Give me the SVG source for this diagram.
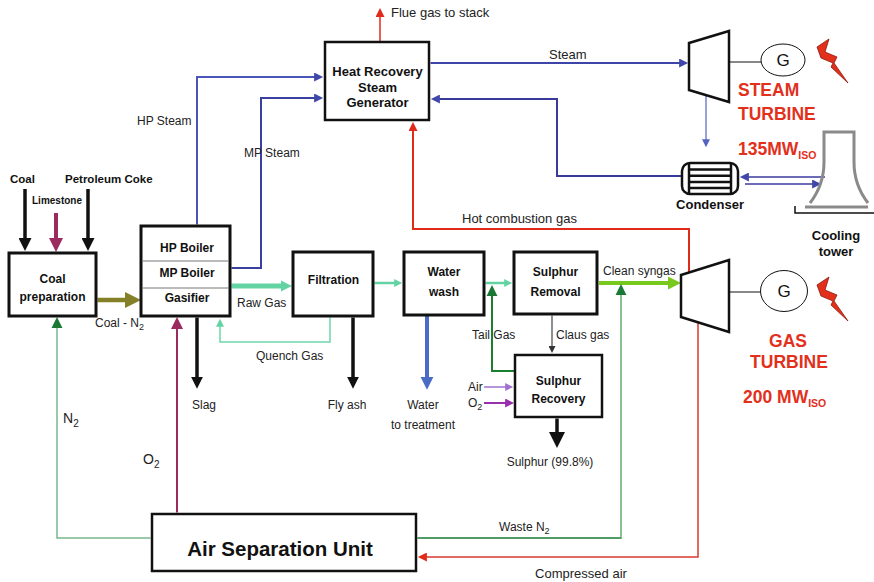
<svg xmlns="http://www.w3.org/2000/svg" width="874" height="582" viewBox="0 0 874 582">
  <style>
    text { font-family: "Liberation Sans", Arial, Helvetica, sans-serif; }
    .box { fill: #fff; stroke: #111; stroke-width: 3; }
    .div { stroke: #777; stroke-width: 1; }
    .t { font-size: 12px; fill: #222; }
    .t13 { font-size: 13px; fill: #222; }
    .b { font-size: 12px; font-weight: bold; fill: #111; }
    .b13 { font-size: 13px; font-weight: bold; fill: #111; }
    .mid { text-anchor: middle; }
    .red { font-size: 17.5px; font-weight: bold; fill: #e2301c; }
    .line { fill: none; }
    .turb { fill: #fff; stroke: #111; stroke-width: 2.5; stroke-linejoin: miter; }
    .gen { fill: #fff; stroke: #111; stroke-width: 1; }
    .bolt { fill: #e2301c; stroke: #8a1a0c; stroke-width: 0.8; stroke-linejoin: miter; }
  </style>
  <defs>
    <marker id="ah-feed" viewBox="0 0 10 10" refX="1" refY="5" markerUnits="userSpaceOnUse" markerWidth="14" markerHeight="13" orient="auto"><path d="M0,0L10,5L0,10z" fill="#111"/></marker>
    <marker id="ah-lime" viewBox="0 0 10 10" refX="1" refY="5" markerUnits="userSpaceOnUse" markerWidth="14" markerHeight="14" orient="auto"><path d="M0,0L10,5L0,10z" fill="#9b2a5e"/></marker>
    <marker id="ah-olive" viewBox="0 0 10 10" refX="1" refY="5" markerUnits="userSpaceOnUse" markerWidth="16" markerHeight="16" orient="auto"><path d="M0,0L10,5L0,10z" fill="#838027"/></marker>
    <marker id="ah-raw" viewBox="0 0 10 10" refX="1" refY="5" markerUnits="userSpaceOnUse" markerWidth="11" markerHeight="20" orient="auto"><path d="M0,0L10,5L0,10z" fill="#64d3a4"/></marker>
    <marker id="ah-teal" viewBox="0 0 10 10" refX="1" refY="5" markerUnits="userSpaceOnUse" markerWidth="9" markerHeight="8" orient="auto"><path d="M0,0L10,5L0,10z" fill="#64d3a4"/></marker>
    <marker id="ah-drop" viewBox="0 0 10 10" refX="1" refY="5" markerUnits="userSpaceOnUse" markerWidth="12" markerHeight="13" orient="auto"><path d="M0,0L10,5L0,10z" fill="#111"/></marker>
    <marker id="ah-sulphur" viewBox="0 0 10 10" refX="1" refY="5" markerUnits="userSpaceOnUse" markerWidth="17" markerHeight="16" orient="auto"><path d="M0,0L10,5L0,10z" fill="#111"/></marker>
    <marker id="ah-water" viewBox="0 0 10 10" refX="1" refY="5" markerUnits="userSpaceOnUse" markerWidth="13" markerHeight="14" orient="auto"><path d="M0,0L10,5L0,10z" fill="#4a6cc4"/></marker>
    <marker id="ah-syngas" viewBox="0 0 10 10" refX="1" refY="5" markerUnits="userSpaceOnUse" markerWidth="13" markerHeight="14" orient="auto"><path d="M0,0L10,5L0,10z" fill="#78c81e"/></marker>
    <marker id="ah-green" viewBox="0 0 10 10" refX="1" refY="5" markerUnits="userSpaceOnUse" markerWidth="11" markerHeight="12" orient="auto"><path d="M0,0L10,5L0,10z" fill="#1a7a34"/></marker>
    <marker id="ah-maroon" viewBox="0 0 10 10" refX="1" refY="5" markerUnits="userSpaceOnUse" markerWidth="12" markerHeight="12" orient="auto"><path d="M0,0L10,5L0,10z" fill="#9b2a5e"/></marker>
    <marker id="ah-blue" viewBox="0 0 10 10" refX="1" refY="5" markerUnits="userSpaceOnUse" markerWidth="10" markerHeight="9" orient="auto"><path d="M0,0L10,5L0,10z" fill="#3f47a8"/></marker>
    <marker id="ah-blue-s" viewBox="0 0 10 10" refX="1" refY="5" markerUnits="userSpaceOnUse" markerWidth="9" markerHeight="8" orient="auto"><path d="M0,0L10,5L0,10z" fill="#5563c0"/></marker>
    <marker id="ah-red" viewBox="0 0 10 10" refX="1" refY="5" markerUnits="userSpaceOnUse" markerWidth="10" markerHeight="9" orient="auto"><path d="M0,0L10,5L0,10z" fill="#e02a1a"/></marker>
    <marker id="ah-gray" viewBox="0 0 10 10" refX="1" refY="5" markerUnits="userSpaceOnUse" markerWidth="8" markerHeight="7" orient="auto"><path d="M0,0L10,5L0,10z" fill="#333"/></marker>
    <marker id="ah-air" viewBox="0 0 10 10" refX="1" refY="5" markerUnits="userSpaceOnUse" markerWidth="9" markerHeight="8" orient="auto"><path d="M0,0L10,5L0,10z" fill="#a070d0"/></marker>
    <marker id="ah-o2" viewBox="0 0 10 10" refX="1" refY="5" markerUnits="userSpaceOnUse" markerWidth="9" markerHeight="9" orient="auto"><path d="M0,0L10,5L0,10z" fill="#9a2fae"/></marker>
  </defs>

  <rect width="874" height="582" fill="#fff"/>

  <!-- flows between the units -->
  <g id="connectors" class="line">
    <!-- raw material feeds -->
    <path d="M25,189V239.4" stroke="#111" stroke-width="3.5" marker-end="url(#ah-feed)"/>
    <path d="M56,213V239.4" stroke="#9b2a5e" stroke-width="4" marker-end="url(#ah-lime)"/>
    <path d="M88,189V239.4" stroke="#111" stroke-width="3.5" marker-end="url(#ah-feed)"/>
    <!-- coal - N2 to gasifier -->
    <path d="M97.5,300H126.6" stroke="#838027" stroke-width="4.5" marker-end="url(#ah-olive)"/>
    <!-- gas train -->
    <path d="M231.5,286H282" stroke="#64d3a4" stroke-width="5" marker-end="url(#ah-raw)"/>
    <path d="M374.5,283H395" stroke="#64d3a4" stroke-width="2.5" marker-end="url(#ah-teal)"/>
    <path d="M485.5,283H505" stroke="#64d3a4" stroke-width="2.5" marker-end="url(#ah-teal)"/>
    <path d="M330,317.5V342H220V326" stroke="#6fd6aa" stroke-width="1.5" marker-end="url(#ah-teal)"/>
    <path d="M599,283H669.3" stroke="#78c81e" stroke-width="4" marker-end="url(#ah-syngas)"/>
    <!-- solids and liquids out -->
    <path d="M197,317.5V378" stroke="#111" stroke-width="3.5" marker-end="url(#ah-drop)"/>
    <path d="M353,317.5V378" stroke="#111" stroke-width="3.5" marker-end="url(#ah-drop)"/>
    <path d="M427,316V378" stroke="#4a6cc4" stroke-width="4" marker-end="url(#ah-water)"/>
    <path d="M557,418.5V433.7" stroke="#111" stroke-width="3.5" marker-end="url(#ah-sulphur)"/>
    <!-- sulphur section -->
    <path d="M552,315.5V346.8" stroke="#444" stroke-width="1.2" marker-end="url(#ah-gray)"/>
    <path d="M514,371H492V295" stroke="#1a8030" stroke-width="2" marker-end="url(#ah-green)"/>
    <path d="M484,387H506" stroke="#a070d0" stroke-width="1.5" marker-end="url(#ah-air)"/>
    <path d="M484,403H506" stroke="#9a2fae" stroke-width="2" marker-end="url(#ah-o2)"/>
    <!-- air separation streams -->
    <path d="M150.5,538H57V327" stroke="#7ab88f" stroke-width="1.5" marker-end="url(#ah-green)"/>
    <path d="M177,512.5V327.8" stroke="#9b2a5e" stroke-width="2" marker-end="url(#ah-maroon)"/>
    <path d="M417.5,538H621.5" stroke="#177a30" stroke-width="1.5"/>
    <path d="M621,538.7V294" stroke="#5fae6e" stroke-width="1.5" marker-end="url(#ah-green)"/>
    <path d="M698,323V557H426" stroke="#d83a2e" stroke-width="1.5" marker-end="url(#ah-red)"/>
    <!-- hot gas and stack -->
    <path d="M689,273V229H413V130" stroke="#e02a1a" stroke-width="2" marker-end="url(#ah-red)"/>
    <path d="M380,41V16" stroke="#e02a1a" stroke-width="1.5" marker-end="url(#ah-red)"/>
    <!-- steam circuit -->
    <path d="M197,224.5V77H315" stroke="#4a55b8" stroke-width="2" marker-end="url(#ah-blue)"/>
    <path d="M231.5,268H261V98H315" stroke="#3a40a0" stroke-width="2" marker-end="url(#ah-blue)"/>
    <path d="M430.5,63H680" stroke="#3d46a8" stroke-width="2" marker-end="url(#ah-blue)"/>
    <path d="M706,96V140" stroke="#5563c0" stroke-width="1.2" marker-end="url(#ah-blue-s)"/>
    <path d="M682,176H557V99H439" stroke="#3a3a9a" stroke-width="2" marker-end="url(#ah-blue)"/>
    <path d="M825,177H748" stroke="#3a3aa0" stroke-width="1.5" marker-end="url(#ah-blue)"/>
    <path d="M745,184H813" stroke="#3a3aa0" stroke-width="1.5" marker-end="url(#ah-blue)"/>
  </g>

  <!-- stream labels -->
  <g id="labels">
    <text class="b" x="10" y="183" style="font-size:11.5px">Coal</text>
    <text class="b" x="65" y="183" style="font-size:11.5px">Petroleum Coke</text>
    <text class="b" x="32" y="204" style="font-size:10px">Limestone</text>
    <text class="t" x="95" y="327">Coal - N<tspan dy="3" font-size="9">2</tspan></text>
    <text class="t" x="237" y="307">Raw Gas</text>
    <text class="t" x="256" y="360">Quench Gas</text>
    <text class="t" x="192" y="409">Slag</text>
    <text class="t mid" x="347" y="409">Fly ash</text>
    <text class="t mid" x="423" y="409">Water</text>
    <text class="t mid" x="423" y="429">to treatment</text>
    <text class="t mid" x="550" y="466">Sulphur (99.8%)</text>
    <text class="t" x="472" y="339">Tail Gas</text>
    <text class="t" x="556" y="339">Claus gas</text>
    <text class="t" x="468" y="391">Air</text>
    <text class="t" x="468" y="407">O<tspan dy="3" font-size="9">2</tspan></text>
    <text class="t" x="603" y="275">Clean syngas</text>
    <text class="t13" x="462" y="223">Hot combustion gas</text>
    <text class="t13" x="391" y="17">Flue gas to stack</text>
    <text class="t13" x="549" y="59">Steam</text>
    <text class="t" x="137" y="125">HP Steam</text>
    <text class="t" x="244" y="157">MP Steam</text>
    <text class="t" x="63" y="423" style="font-size:14px">N<tspan dy="4" font-size="10">2</tspan></text>
    <text class="t" x="143" y="464" style="font-size:14px">O<tspan dy="4" font-size="10">2</tspan></text>
    <text class="t" x="499" y="531">Waste N<tspan dy="3" font-size="9">2</tspan></text>
    <text class="t13 mid" x="581" y="578">Compressed air</text>
  </g>

  <g id="coal-preparation">
    <rect class="box" x="9" y="253" width="87" height="63"/>
    <text class="b mid" x="52.5" y="283">Coal</text>
    <text class="b mid" x="52.5" y="301">preparation</text>
  </g>

  <g id="gasifier">
    <rect class="box" x="141" y="226" width="89" height="90"/>
    <line class="div" x1="142.5" y1="261" x2="228.5" y2="261"/>
    <line class="div" x1="142.5" y1="288" x2="228.5" y2="288"/>
    <text class="b mid" x="187" y="252">HP Boiler</text>
    <text class="b mid" x="187" y="277">MP Boiler</text>
    <text class="b mid" x="187" y="302">Gasifier</text>
  </g>

  <g id="hrsg">
    <rect class="box" x="325" y="42" width="104" height="78" style="stroke-width:2.5"/>
    <text class="b13 mid" x="377.5" y="76">Heat Recovery</text>
    <text class="b13 mid" x="377.5" y="92">Steam</text>
    <text class="b13 mid" x="377.5" y="107">Generator</text>
  </g>

  <g id="filtration">
    <rect class="box" x="293" y="252" width="80" height="64"/>
    <text class="b mid" x="333.5" y="284">Filtration</text>
  </g>

  <g id="water-wash">
    <rect class="box" x="404" y="252" width="80" height="63"/>
    <text class="b mid" x="444" y="276">Water</text>
    <text class="b mid" x="444" y="296">wash</text>
  </g>

  <g id="sulphur-removal">
    <rect class="box" x="514" y="252" width="83" height="62"/>
    <text class="b mid" x="555.5" y="276">Sulphur</text>
    <text class="b mid" x="555.5" y="296">Removal</text>
  </g>

  <g id="sulphur-recovery">
    <rect class="box" x="515" y="355" width="87" height="62" style="stroke-width:2.5"/>
    <text class="b mid" x="558.5" y="385">Sulphur</text>
    <text class="b mid" x="558.5" y="403">Recovery</text>
  </g>

  <g id="air-separation-unit">
    <rect class="box" x="152" y="514" width="264" height="57" style="stroke-width:2.5"/>
    <text class="mid" x="280" y="556" style="font-size:20.5px;font-weight:bold;fill:#111">Air Separation Unit</text>
  </g>

  <g id="steam-turbine">
    <polygon class="turb" points="689,43 729,31 729,102 689,90"/>
    <line x1="729" y1="62" x2="761" y2="62" stroke="#111" stroke-width="1"/>
    <ellipse class="gen" cx="783" cy="60" rx="22" ry="16"/>
    <text class="mid" x="783" y="66" style="font-size:17px;fill:#111">G</text>
    <polygon class="bolt" points="817,47 829,39 825,52 837,57 834,63 848,83 831,67 833,63 821,58"/>
    <text class="red" x="738" y="96">STEAM</text>
    <text class="red" x="738" y="120">TURBINE</text>
    <text class="red" x="738" y="155">135MW<tspan dy="4" font-size="10.5">ISO</tspan></text>
  </g>

  <g id="gas-turbine">
    <polygon class="turb" points="681,275 729,260 729,332 681,317"/>
    <line x1="729" y1="292" x2="761" y2="292" stroke="#111" stroke-width="1"/>
    <ellipse class="gen" cx="784" cy="291" rx="23.5" ry="20.5"/>
    <text class="mid" x="784" y="297" style="font-size:17px;fill:#111">G</text>
    <polygon class="bolt" transform="translate(0,238)" points="817,47 829,39 825,52 837,57 834,63 848,83 831,67 833,63 821,58"/>
    <text class="red mid" x="788" y="347">GAS</text>
    <text class="red mid" x="789" y="368">TURBINE</text>
    <text class="red" x="743" y="403">200 MW<tspan dy="4" font-size="10.5">ISO</tspan></text>
  </g>

  <g id="condenser">
    <rect x="682" y="163" width="56" height="31" rx="8" fill="#fff" stroke="#111" stroke-width="2.5"/>
    <g stroke="#111" stroke-width="2.5">
      <line x1="689" y1="163" x2="689" y2="194"/>
      <line x1="731" y1="163" x2="731" y2="194"/>
      <line x1="689" y1="169.5" x2="731" y2="169.5"/>
      <line x1="689" y1="175.7" x2="731" y2="175.7"/>
      <line x1="689" y1="181.9" x2="731" y2="181.9"/>
      <line x1="689" y1="188.1" x2="731" y2="188.1"/>
    </g>
    <text class="b13 mid" x="710" y="209">Condenser</text>
  </g>

  <g id="cooling-tower">
    <path d="M810,203Q824,185 824,162V132H854V162Q854,185 868,203" fill="none" stroke="#8a8a8a" stroke-width="3"/>
    <line x1="805" y1="207" x2="868" y2="207" stroke="#8a8a8a" stroke-width="3"/>
    <path d="M795,206V213H874" fill="none" stroke="#111" stroke-width="1.5"/>
    <text class="b13 mid" x="836" y="240">Cooling</text>
    <text class="b13 mid" x="836" y="256">tower</text>
  </g>
</svg>
